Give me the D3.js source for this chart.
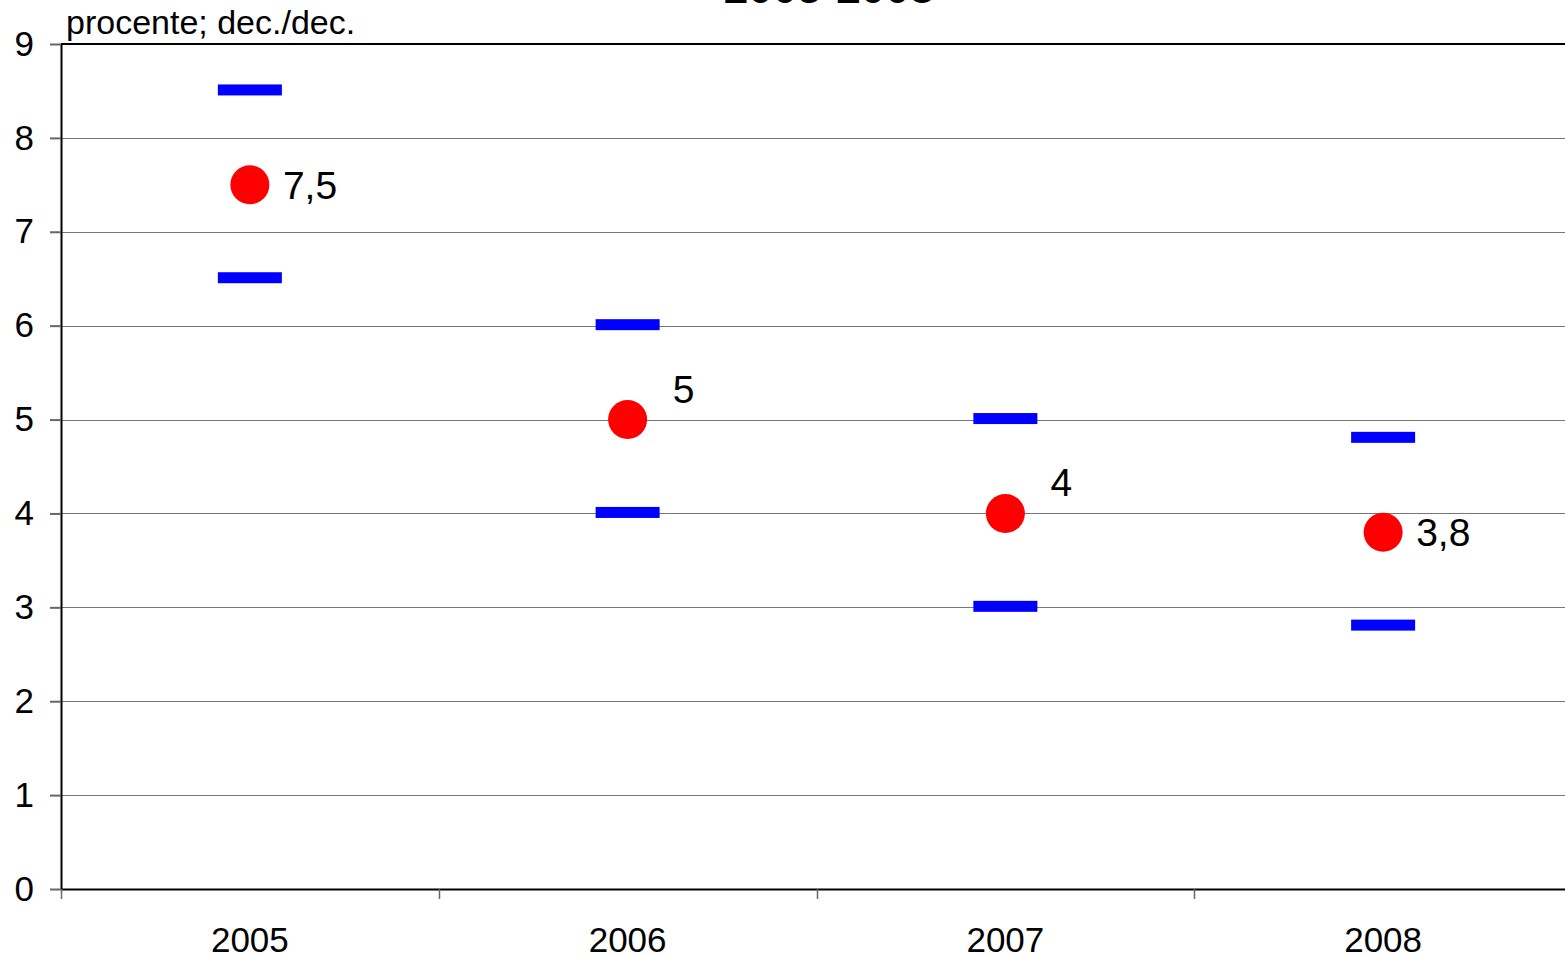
<!DOCTYPE html>
<html>
<head>
<meta charset="utf-8">
<script src="https://cdn.jsdelivr.net/npm/d3@7"></script>
<style>
  body { margin: 0; background: #fff; overflow: hidden; }
  text { font-family: "Liberation Sans", Arial, sans-serif; fill: #000; }
</style>
</head>
<body>
<script>
// data
var years = ['2005', '2006', '2007', '2008'];
var central = [7.5, 5, 4, 3.8];
var upper = [8.5, 6, 5, 4.8];
var lower = [6.5, 4, 3, 2.8];
var valueLabels = ['7,5', '5', '4', '3,8'];
var labelAbove = [false, true, true, false];
var yTicks = [0, 1, 2, 3, 4, 5, 6, 7, 8, 9];

var width = 1565, height = 957;
var margin = { top: 44, left: 61, bottom: 68 };
var plot_w = 1511;
var plot_h = height - margin.top - margin.bottom;

var svg = d3.select('body').append('svg')
    .attr('width', width)
    .attr('height', height);

var x = d3.scaleBand().domain(years).range([margin.left, margin.left + plot_w]);
var y = d3.scaleLinear().domain([0, 9]).range([margin.top + plot_h, margin.top]);

// title (cut off at top in the original)
svg.append('text')
    .attr('x', 829)
    .attr('y', 3)
    .attr('text-anchor', 'middle')
    .style('font-weight', 700)
    .style('font-size', '44px')
    .text('2005-2008');

svg.append('text')
    .attr('x', 66)
    .attr('y', 34)
    .style('font-size', '34px')
    .text('procente; dec./dec.');

// gridlines
svg.append('g')
    .selectAll('line').data(yTicks.filter(function(d) { return d > 0 && d < 9; })).enter()
    .append('line')
    .attr('x1', margin.left)
    .attr('x2', margin.left + plot_w)
    .attr('y1', function(d) { return Math.round(y(d)) + 0.5; })
    .attr('y2', function(d) { return Math.round(y(d)) + 0.5; })
    .attr('stroke', '#777')
    .attr('stroke-width', 1);

// top frame line
svg.append('line')
    .attr('x1', margin.left).attr('x2', margin.left + plot_w)
    .attr('y1', y(9)).attr('y2', y(9))
    .attr('stroke', '#000').attr('stroke-width', 2);

// y axis
var yaxis = svg.append('g')
    .attr('transform', `translate(${margin.left}, 0)`)
    .call(d3.axisLeft(y).tickValues(yTicks).tickSize(11).tickPadding(16).tickSizeOuter(0));
yaxis.select('.domain').attr('stroke', '#000').attr('stroke-width', 2);
yaxis.selectAll('.tick line').attr('stroke', '#666').attr('stroke-width', 2);
yaxis.selectAll('.tick text')
    .style('font-size', '35px')
    .attr('font-family', null);

// x axis
var xaxis = svg.append('g')
    .attr('transform', `translate(0, ${margin.top + plot_h})`)
    .call(d3.axisBottom(x).tickSize(0).tickPadding(38));
xaxis.select('.domain').attr('stroke', '#000').attr('stroke-width', 2);
xaxis.selectAll('.tick text')
    .style('font-size', '35px')
    .attr('font-family', null);

// category separators
svg.append('g')
    .selectAll('line').data(years).enter()
    .append('line')
    .attr('x1', function(d) { return Math.round(x(d)) + 0.5; })
    .attr('x2', function(d) { return Math.round(x(d)) + 0.5; })
    .attr('y1', margin.top + plot_h)
    .attr('y2', margin.top + plot_h + 10)
    .attr('stroke', '#666')
    .attr('stroke-width', 1.5);

var cx = function(i) { return x(years[i]) + x.bandwidth() / 2; };

// blue range markers
var dashW = 64, dashH = 11;
var marks = svg.append('g');
marks.selectAll('rect.hi').data(upper).enter()
    .append('rect')
    .attr('class', 'hi')
    .attr('x', function(d, i) { return cx(i) - dashW / 2; })
    .attr('y', function(d) { return y(d) - dashH / 2 - 1; })
    .attr('width', dashW)
    .attr('height', dashH)
    .attr('fill', '#0000ff');
marks.selectAll('rect.lo').data(lower).enter()
    .append('rect')
    .attr('class', 'lo')
    .attr('x', function(d, i) { return cx(i) - dashW / 2; })
    .attr('y', function(d) { return y(d) - dashH / 2 - 1; })
    .attr('width', dashW)
    .attr('height', dashH)
    .attr('fill', '#0000ff');

// red central targets
marks.selectAll('circle').data(central).enter()
    .append('circle')
    .attr('cx', function(d, i) { return cx(i); })
    .attr('cy', function(d) { return y(d); })
    .attr('r', 19.5)
    .attr('fill', '#ff0000');

marks.selectAll('text.val').data(central).enter()
    .append('text')
    .attr('class', 'val')
    .attr('x', function(d, i) { return cx(i) + (labelAbove[i] ? 45 : 33); })
    .attr('y', function(d, i) { return y(d) + (labelAbove[i] ? -31 : 0); })
    .attr('dy', '0.36em')
    .style('font-size', '39px')
    .text(function(d, i) { return valueLabels[i]; });
</script>
</body>
</html>
